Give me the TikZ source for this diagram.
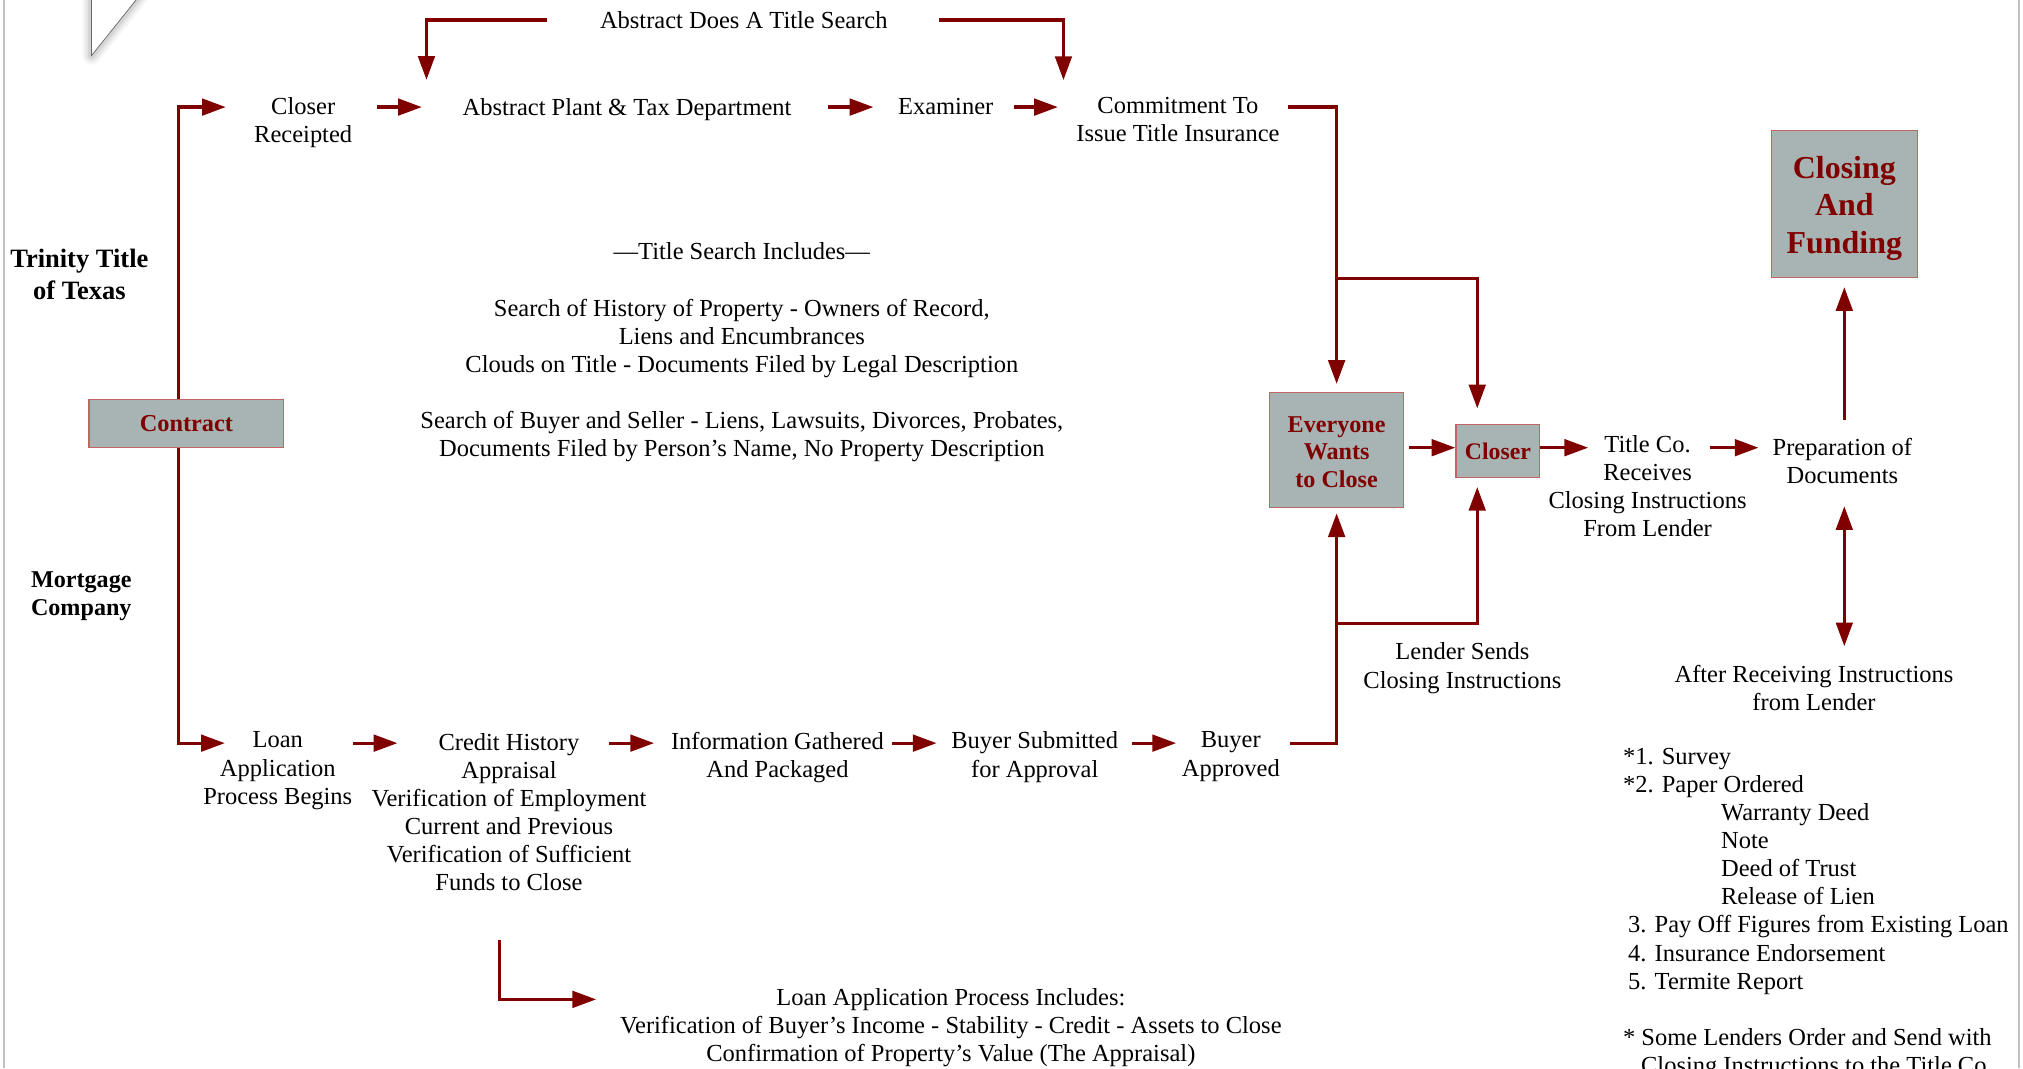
\documentclass[tikz,border=0pt]{standalone}
\usepackage{fontspec}
\setmainfont{Liberation Serif}
\usetikzlibrary{arrows.meta, positioning}
\definecolor{flowred}{RGB}{128,0,0}
\definecolor{boxgray}{RGB}{168,180,180}
\definecolor{boxedge}{RGB}{196,100,100}
\definecolor{pageline}{RGB}{192,192,192}
\tikzset{%
stage text/.style={
    anchor=north, align=center,
    inner sep=0pt, outer sep=0pt,
    font=\fontsize{13.5}{15.5}\selectfont
},
red box/.style={
    rectangle, draw=boxedge, fill=boxgray, line width=0.6pt,
    text=flowred, align=center, inner sep=0pt
},
flow/.style={
    color=flowred, line width=1.8pt,
    -{Triangle[length=0.46cm,width=0.32cm]}
},
flow both/.style={
    flow, {Triangle[length=0.46cm,width=0.32cm]}-{Triangle[length=0.46cm,width=0.32cm]}
},
}

\begin{document}
\begin{tikzpicture}[x=0.025cm, y=-0.025cm]
\useasboundingbox (0,0) rectangle (1568,828);
\clip (0,0) rectangle (1568,828);

% page edges and curled corner
\draw[pageline, line width=1pt] (3,0) -- (3,828);
\draw[pageline, line width=1pt] (1565,0) -- (1565,828);
\foreach \w/\o in {10/0.04, 7/0.06, 4/0.08}
  \draw[line width=\w pt, black, opacity=\o, line join=round] (71,-5) -- (71,43) -- (109.5,-5);
\fill[white] (71,-5) -- (71,43) -- (109.5,-5) -- cycle;
\draw[black!60, line width=0.4pt] (71,-5) -- (71,43) -- (109.5,-5);

% side labels
\node[stage text, font=\fontsize{14.6}{17.8}\selectfont\bfseries] (trinity) at (61.5,192.8) {Trinity Title\\of Texas};
\node[stage text, font=\fontsize{13.3}{15.6}\selectfont\bfseries] (mortgage) at (63,443) {Mortgage\\Company};

% title company row
\node[stage text] (abs-search) at (576.5,8.8) {Abstract Does A Title Search};
\node[stage text] (closer-rec) at (235,75.3) {Closer\\Receipted};
\node[stage text] (abs-plant) at (486,76.3) {Abstract Plant \& Tax Department};
\node[stage text] (examiner) at (733,76.3) {Examiner};
\node[stage text] (commit) at (913,75.3) {Commitment To\\Issue Title Insurance};

\node[stage text] (search-incl) at (575,188.3) {—Title Search Includes—\\[15.5pt]
  Search of History of Property - Owners of Record,\\
  Liens and Encumbrances\\
  Clouds on Title - Documents Filed by Legal Description\\[15.5pt]
  Search of Buyer and Seller - Liens, Lawsuits, Divorces, Probates,\\
  Documents Filed by Person’s Name, No Property Description};

% mortgage company row
\node[stage text] (loan-app) at (215.3,567.3) {Loan\\Application\\Process Begins};
\node[stage text] (credit) at (394.5,568.3) {Credit History\\Appraisal\\Verification of Employment\\Current and Previous\\Verification of Sufficient\\Funds to Close};
\node[stage text] (info) at (602.6,567.3) {Information Gathered\\And Packaged};
\node[stage text] (buyer-sub) at (802,567.3) {Buyer Submitted\\for Approval};
\node[stage text] (buyer-ok) at (954,567.3) {Buyer\\Approved};
\node[stage text] (loan-incl) at (737,765.8) {Loan Application Process Includes:\\
  Verification of Buyer’s Income - Stability - Credit - Assets to Close\\
  Confirmation of Property’s Value (The Appraisal)};

% closing side
\node[red box, minimum width=2.6cm, minimum height=2.225cm, font=\fontsize{13.3}{15.1}\selectfont\bfseries] (everyone) at (1036,348.5) {\rule{0pt}{11.5pt}Everyone\\Wants\\to Close};
\node[red box, minimum width=1.625cm, minimum height=1.025cm, font=\fontsize{13.1}{15}\selectfont\bfseries] (closer) at (1161,349.5) {Closer};
\node[red box, minimum width=2.825cm, minimum height=2.84cm, font=\fontsize{17.6}{20.6}\selectfont\bfseries] (closing) at (1429.5,158.3) {\rule{0pt}{16.5pt}Closing\\And\\Funding};
\node[stage text] (title-co) at (1277,337.3) {Title Co.\\Receives\\Closing Instructions\\From Lender};
\node[stage text] (prep) at (1428,339.8) {Preparation of\\Documents};
\node[stage text] (lender-sends) at (1133.5,498.3) {Lender Sends\\Closing Instructions};
\node[stage text] (after-rec) at (1406,515.3) {After Receiving Instructions\\from Lender};
\node[stage text, anchor=north west, align=left] (paper-list) at (1258,579.8) {*1. Survey\\
  *2. Paper Ordered\\
  \hspace*{1.9cm}Warranty Deed\\
  \hspace*{1.9cm}Note\\
  \hspace*{1.9cm}Deed of Trust\\
  \hspace*{1.9cm}Release of Lien\\
  \hspace*{0.1cm}3. Pay Off Figures from Existing Loan\\
  \hspace*{0.1cm}4. Insurance Endorsement\\
  \hspace*{0.1cm}5. Termite Report\\[15.5pt]
  * Some Lenders Order and Send with\\
  \hspace*{0.35cm}Closing Instructions to the Title Co.};

\coordinate (toprow) at (0,83);
\coordinate (midrow) at (0,347);
\coordinate (lowrow) at (0,576);
\coordinate (trunk) at (138.5,328.5);
\coordinate (top-split) at (1036,216);
\coordinate (low-split) at (1036,483);

% trunk out of the contract
\draw[flow, shorten >=1.5cm] (trunk) |- (closer-rec.center |- toprow);
\draw[flow, shorten >=1.025cm] (trunk) |- (loan-app.center |- lowrow);
\node[red box, minimum width=3.775cm, minimum height=0.925cm, font=\fontsize{13.4}{15}\selectfont\bfseries] (contract) at (144.5,328.5) {Contract};

% top row
\draw[flow, shorten <=1.025cm, shorten >=0.36cm] (abs-search.west) -| ([xshift=-0.7cm]abs-plant.north west);
\draw[flow, shorten <=1.0cm, shorten >=0.33cm] (abs-search.east) -| ([xshift=-0.25cm]commit.north west);
\draw[flow, shorten <=1.425cm, shorten >=3.975cm] (closer-rec.center |- toprow) -- (abs-plant.center |- toprow);
\draw[flow, shorten <=3.9cm, shorten >=1.4cm] (abs-plant.center |- toprow) -- (examiner.center |- toprow);
\draw[flow, shorten <=1.325cm, shorten >=2.325cm] (examiner.center |- toprow) -- (commit.center |- toprow);
\draw[flow, shorten <=2.125cm, shorten >=0.15cm] (commit.center |- toprow) -| (everyone.north);
\draw[flow, shorten >=0.3cm] (top-split) -| ([xshift=-0.4cm]closer.north);

% bottom row
\draw[flow, shorten <=1.45cm, shorten >=2.16cm] (loan-app.center |- lowrow) -- (credit.center |- lowrow);
\draw[flow, shorten <=1.94cm, shorten >=2.39cm] (credit.center |- lowrow) -- (info.center |- lowrow);
\draw[flow, shorten <=2.22cm, shorten >=1.9cm] (info.center |- lowrow) -- (buyer-sub.center |- lowrow);
\draw[flow, shorten <=1.875cm, shorten >=1.06cm] (buyer-sub.center |- lowrow) -- (buyer-ok.center |- lowrow);
\draw[flow, shorten <=1.15cm, shorten >=0.11cm] (buyer-ok.center |- lowrow) -| (everyone.south);
\draw[flow, shorten >=0.175cm] (low-split) -| ([xshift=-0.4cm]closer.south);
\draw[flow, shorten <=0.95cm, shorten >=0.465cm] ([xshift=-0.19cm]credit.south) |- ([yshift=-0.22cm]loan-incl.north west);

% closing
\draw[flow, shorten <=1.4cm, shorten >=0.825cm] (everyone.center |- midrow) -- (closer.center |- midrow);
\draw[flow, shorten <=0.825cm, shorten >=1.15cm] (closer.center |- midrow) -- (title-co.center |- midrow);
\draw[flow, shorten <=1.2cm, shorten >=1.625cm] (title-co.center |- midrow) -- (prep.center |- midrow);
\draw[flow, shorten <=0.36cm, shorten >=0.175cm] (closing.south |- prep.north) -- (closing.south);
\draw[flow both, shorten <=0.43cm, shorten >=0.36cm] (closing.south |- prep.south) -- (closing.south |- after-rec.north);
\end{tikzpicture}
\end{document}
